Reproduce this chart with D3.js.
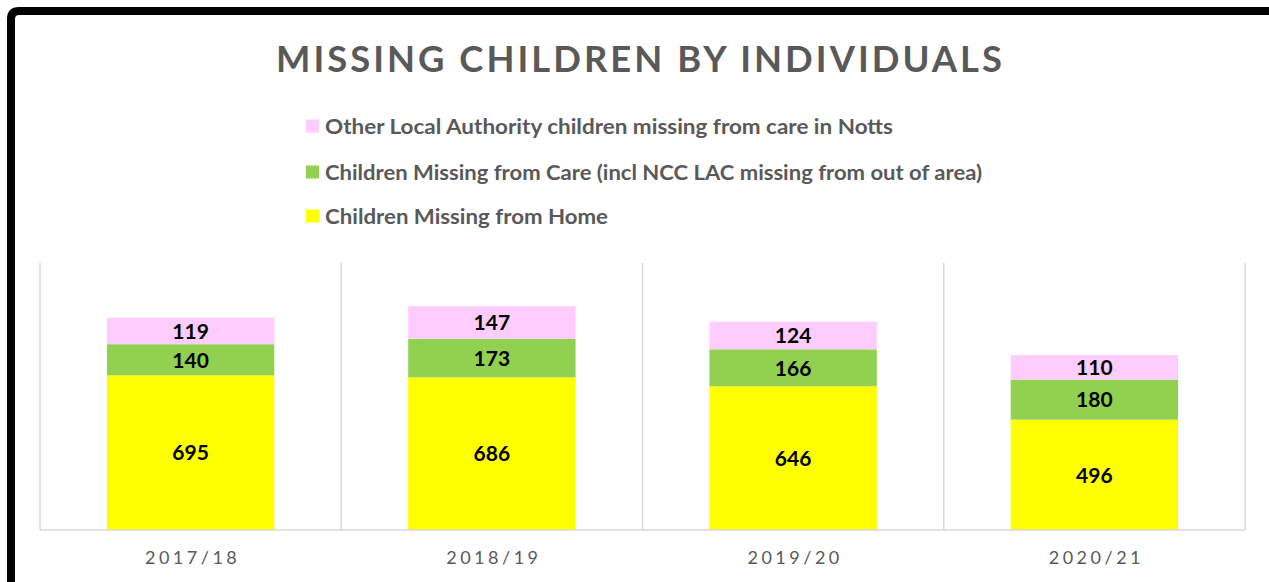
<!DOCTYPE html>
<html>
<head>
<meta charset="utf-8">
<script src="https://cdn.jsdelivr.net/npm/d3@7"></script>
<style>
  body { margin: 0; background: #fff; }
  svg { display: block; font-family: Lato, "Open Sans", sans-serif; }
</style>
</head>
<body>
<svg id="chart" width="1269" height="582"></svg>
<script>
// data
const years = ["2017/18", "2018/19", "2019/20", "2020/21"];
const fromHome = [695, 686, 646, 496];
const fromCare = [140, 173, 166, 180];
const otherLA = [119, 147, 124, 110];

const seriesNames = [
    "Children Missing from Home",
    "Children Missing from Care (incl NCC LAC missing from out of area)",
    "Other Local Authority children missing from care in Notts"
];
const seriesKeys = ["home", "care", "other"];
const seriesColors = ["#FFFF00", "#92D050", "#FFCCFF"];

let rows = years.map((y, i) => ({year: y, home: fromHome[i], care: fromCare[i], other: otherLA[i]}));

let svg = d3.select("#chart");

// black frame, top and left only
svg.append("path")
    .attr("d", "M11,600 L11,19 Q11,11 19,11 L1275,11")
    .attr("fill", "none")
    .attr("stroke", "#000")
    .attr("stroke-width", 8);

// title
svg.append("text")
    .attr("x", 276)
    .attr("y", 72)
    .attr("textLength", 729)
    .attr("lengthAdjust", "spacingAndGlyphs")
    .attr("font-size", 36)
    .attr("letter-spacing", 3)
    .attr("font-weight", "bold")
    .attr("fill", "#595959")
    .text("MISSING CHILDREN BY INDIVIDUALS");

let x = d3.scaleBand()
    .domain(years)
    .range([40, 1245])
    .padding(0);

let y = d3.scaleLinear()
    .domain([0, 1200])
    .range([530, 263]);

let barW = x.bandwidth() / 1.8;   // excel gap width 80%
let barOff = (x.bandwidth() - barW) / 2;

// vertical separators between categories
let edges = years.map(d => x(d)).concat([x.range()[1]]);
svg.selectAll("line.grid")
    .data(edges)
    .enter()
    .append("line")
    .classed("grid", true)
    .attr("x1", d => d).attr("x2", d => d)
    .attr("y1", y(1200)).attr("y2", y(0))
    .attr("stroke", "#d9d9d9")
    .attr("stroke-width", 1.5);

// bars
let stack = d3.stack().keys(seriesKeys)(rows);

let layers = svg.selectAll("g.layer")
    .data(stack)
    .enter()
    .append("g")
    .classed("layer", true)
    .attr("fill", (d, i) => seriesColors[i]);

layers.selectAll("rect")
    .data(d => d)
    .enter()
    .append("rect")
    .attr("x", d => x(d.data.year) + barOff)
    .attr("y", d => y(d[1]))
    .attr("width", barW)
    .attr("height", d => y(d[0]) - y(d[1]));

layers.selectAll("text")
    .data(d => d)
    .enter()
    .append("text")
    .attr("x", d => x(d.data.year) + x.bandwidth() / 2)
    .attr("y", d => (y(d[0]) + y(d[1])) / 2)
    .attr("dy", "0.37em")
    .attr("text-anchor", "middle")
    .attr("font-size", 21)
    .attr("font-weight", "bold")
    .attr("fill", "#000")
    .text(d => d[1] - d[0]);

// baseline
svg.append("line")
    .attr("x1", 40).attr("x2", 1245)
    .attr("y1", y(0)).attr("y2", y(0))
    .attr("stroke", "#d9d9d9")
    .attr("stroke-width", 1.5);

// category labels
svg.selectAll("text.cat")
    .data(years)
    .enter()
    .append("text")
    .classed("cat", true)
    .attr("x", d => x(d) + x.bandwidth() / 2 + 2)
    .attr("y", 564)
    .attr("text-anchor", "middle")
    .attr("font-size", 18)
    .attr("letter-spacing", 3.5)
    .attr("fill", "#595959")
    .text(d => d);

// legend (top to bottom: other, care, home)
let legendRows = [
    {name: seriesNames[2], color: seriesColors[2], cy: 126, len: 568},
    {name: seriesNames[1], color: seriesColors[1], cy: 172, len: 657},
    {name: seriesNames[0], color: seriesColors[0], cy: 216, len: 283}
];

let legend = svg.selectAll("g.legend")
    .data(legendRows)
    .enter()
    .append("g")
    .classed("legend", true);

legend.append("rect")
    .attr("x", 306)
    .attr("y", d => d.cy - 6.5)
    .attr("width", 13)
    .attr("height", 13)
    .attr("fill", d => d.color);

legend.append("text")
    .attr("x", 325)
    .attr("y", d => d.cy + 7.5)
    .attr("font-size", 21)
    .attr("font-weight", "bold")
    .attr("fill", "#595959")
    .attr("textLength", d => d.len)
    .attr("lengthAdjust", "spacingAndGlyphs")
    .text(d => d.name);
</script>
</body>
</html>
